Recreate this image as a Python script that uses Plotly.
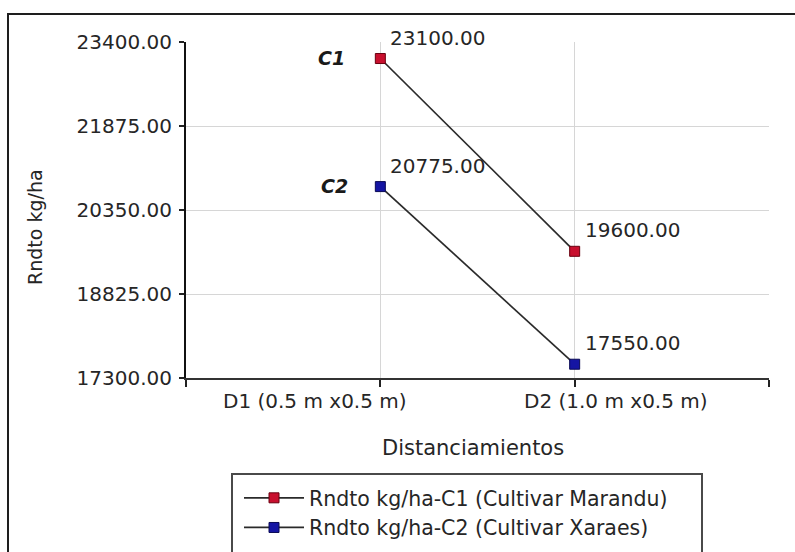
import plotly.graph_objects as go

# ---- data ----
categories = ["D1 (0.5 m x0.5 m)", "D2 (1.0 m x0.5 m)"]
cat_pos = [1, 2]                      # numeric slot of each category on the x axis
c1_values = [23100.00, 19600.00]      # Cultivar Marandu
c2_values = [20775.00, 17550.00]      # Cultivar Xaraes
series_names = ["Rndto kg/ha-C1 (Cultivar Marandu)", "Rndto kg/ha-C2 (Cultivar Xaraes)"]
series_tags = ["C1", "C2"]
y_ticks = [17300.00, 18825.00, 20350.00, 21875.00, 23400.00]
y_title = "Rndto kg/ha"
x_title = "Distanciamientos"

# ---- layout geometry (pixels) ----
W, H = 795, 552
L, R, T, B = 186, 26, 42, 174
PW, PH = W - L - R, H - T - B


def px_x(p):
    return (p - L) / PW


def px_y(p):
    return 1 - (p - T) / PH


FONT = "DejaVu Sans"
TXT = "#262626"

fig = go.Figure()

marker_cols = ["#c8102e", "#1515a3"]
marker_edges = ["#6a0010", "#0a0a55"]
for name, vals, mc, me in zip(series_names, [c1_values, c2_values], marker_cols, marker_edges):
    fig.add_trace(go.Scatter(
        x=cat_pos, y=vals, name=name, mode="lines+markers",
        line=dict(color="#2a2a2a", width=1.7),
        marker=dict(symbol="square", size=10, color=mc, line=dict(color=me, width=1)),
        hoverinfo="skip",
    ))

annotations = []
# value labels above-right of each point
for vals in [c1_values, c2_values]:
    for xv, yv in zip(cat_pos, vals):
        annotations.append(dict(
            x=xv, y=yv, xref="x", yref="y", text=f"{yv:.2f}", showarrow=False,
            xanchor="left", yanchor="middle", xshift=8, yshift=21,
            font=dict(family=FONT, size=20, color=TXT)))

# series tags left of the first point
for tag, vals, xs in zip(series_tags, [c1_values, c2_values], [-33, -30]):
    annotations.append(dict(
        x=cat_pos[0], y=vals[0], xref="x", yref="y", text=f"<b><i>{tag}</i></b>",
        showarrow=False, xanchor="right", yanchor="middle", xshift=xs, yshift=1,
        font=dict(family=FONT, size=19, color="#1a1a1a")))

# category labels under the x axis
cat_label_x = [0.664, 2.213]
for lab, xv in zip(categories, cat_label_x):
    annotations.append(dict(
        x=xv, y=px_y(401), xref="x", yref="paper", text=lab, showarrow=False,
        xanchor="center", yanchor="middle",
        font=dict(family=FONT, size=20, color=TXT)))

# axis titles
annotations.append(dict(
    x=px_x(473), y=px_y(448), xref="paper", yref="paper", text=x_title,
    showarrow=False, xanchor="center", yanchor="middle",
    font=dict(family=FONT, size=21, color=TXT)))
annotations.append(dict(
    x=px_x(35), y=px_y(227), xref="paper", yref="paper", text=y_title,
    showarrow=False, xanchor="center", yanchor="middle", textangle=-90,
    font=dict(family=FONT, size=19, color=TXT)))

shapes = [
    # outer chart frame
    dict(type="rect", xref="paper", yref="paper",
         x0=px_x(8), x1=px_x(820), y0=px_y(580), y1=px_y(14),
         line=dict(color="#1e1e1e", width=2), fillcolor="rgba(0,0,0,0)", layer="below"),
    # legend frame
    dict(type="rect", xref="paper", yref="paper",
         x0=px_x(232), x1=px_x(702), y0=px_y(580), y1=px_y(474),
         line=dict(color="#4a4a4a", width=2), fillcolor="rgba(0,0,0,0)"),
]

fig.update_layout(
    width=W, height=H,
    margin=dict(l=L, r=R, t=T, b=B, autoexpand=False),
    paper_bgcolor="white", plot_bgcolor="white",
    font=dict(family=FONT, size=20, color=TXT),
    showlegend=True,
    legend=dict(
        x=px_x(239), y=px_y(478), xref="paper", yref="paper",
        xanchor="left", yanchor="top",
        bgcolor="rgba(0,0,0,0)", borderwidth=0,
        itemwidth=60, font=dict(family=FONT, size=20.5, color=TXT),
        tracegroupgap=0,
    ),
    xaxis=dict(
        range=[0, 3], tickvals=[0, 1, 2, 3], showticklabels=False,
        ticks="outside", ticklen=7, tickwidth=1.5, tickcolor="#222",
        showline=True, linecolor="#333", linewidth=2,
        showgrid=True, gridcolor="#d6d6d6", gridwidth=1, zeroline=False,
        fixedrange=True,
    ),
    yaxis=dict(
        range=[y_ticks[0], y_ticks[-1]], tickvals=y_ticks, tickformat=".2f",
        ticks="outside", ticklen=5, tickwidth=1.5, tickcolor="#222",
        showline=True, linecolor="#111", linewidth=2,
        showgrid=True, gridcolor="#d6d6d6", gridwidth=1, zeroline=False,
        tickfont=dict(family=FONT, size=20, color=TXT), ticklabelstandoff=3,
        fixedrange=True,
    ),
    annotations=annotations,
    shapes=shapes,
)

fig.write_html("out.html")
